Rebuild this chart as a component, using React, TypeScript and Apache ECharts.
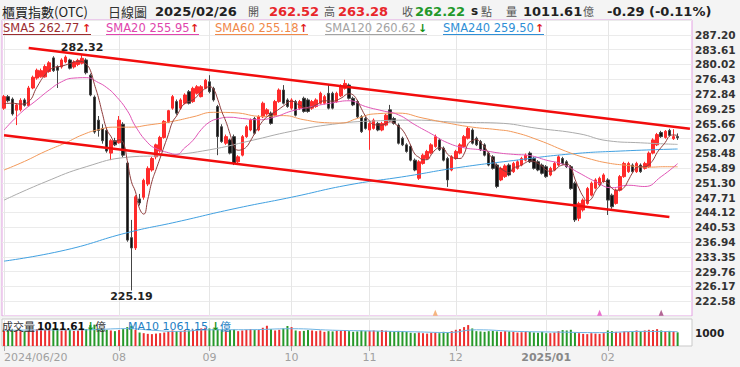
import React, { useEffect, useRef } from 'react';
import * as echarts from 'echarts';

// ---- trading days (category axis) ----
const monthKeys = ['2024/06', '2024/07', '2024/08', '2024/09', '2024/10', '2024/11', '2024/12', '2025/01', '2025/02'];
const monthDays: number[][] = [
  [20, 21, 24, 25, 26, 27, 28],
  [1, 2, 3, 4, 5, 8, 9, 10, 11, 12, 15, 16, 17, 18, 19, 22, 23, 26, 29, 30, 31],
  [1, 2, 5, 6, 7, 8, 9, 12, 13, 14, 15, 16, 19, 20, 21, 22, 23, 26, 27, 28, 29, 30],
  [2, 3, 4, 5, 6, 9, 10, 11, 12, 13, 16, 18, 19, 20, 23, 24, 25, 26, 27, 30],
  [1, 4, 7, 8, 9, 11, 14, 15, 16, 17, 18, 21, 22, 23, 24, 25, 28, 29, 30],
  [1, 4, 5, 6, 7, 8, 11, 12, 13, 14, 15, 18, 19, 20, 21, 22, 25, 26, 27, 28, 29],
  [2, 3, 4, 5, 6, 9, 10, 11, 12, 13, 16, 17, 18, 19, 20, 23, 24, 25, 26, 27, 30, 31],
  [2, 3, 6, 7, 8, 9, 10, 13, 14, 15, 16, 17, 20, 21, 22],
  [3, 4, 5, 6, 7, 10, 11, 12, 13, 14, 17, 18, 19, 20, 21, 24, 25, 26],
];
const monthTickLabels = ['2024/06/20', '', '08', '09', '10', '11', '12', '2025/01', '02'];

// ---- OHLC ----
const opens = [269.4,272.2,271.6,268.9,269.0,271.4,270.0,274.3,276.7,277.0,
277.0,278.3,281.6,279.4,279.4,280.6,281.1,279.4,280.0,280.3,
281.1,277.4,272.1,266.5,264.5,264.0,258.5,261.5,261.0,265.5,
256.1,238.0,235.5,247.4,247.8,251.0,254.4,257.6,259.0,262.3,
266.0,269.4,271.0,269.4,270.6,273.4,271.0,273.0,272.2,274.2,
275.8,274.2,269.8,264.9,260.9,261.7,262.5,256.4,258.0,262.5,
264.1,266.9,264.1,267.3,268.0,268.2,267.7,271.0,273.8,271.4,
269.4,271.0,269.4,271.8,271.4,269.4,269.8,270.6,270.6,273.0,
273.0,271.0,272.4,274.2,275.0,271.8,271.0,267.3,266.9,264.1,
264.5,265.7,264.1,265.3,269.0,266.9,265.3,262.1,260.5,260.1,
256.8,252.4,256.0,257.2,258.5,260.1,261.7,259.7,257.2,254.4,
257.2,258.5,260.1,262.1,264.1,262.1,261.3,260.5,258.5,257.6,
255.6,252.0,252.8,255.6,254.0,254.8,255.6,256.8,258.5,257.2,
256.4,255.6,255.2,253.2,254.4,255.6,257.2,256.4,255.2,251.2,
242.7,244.7,246.3,248.3,250.0,250.8,251.6,252.0,248.3,246.3,
249.5,252.8,254.0,255.6,254.0,255.6,254.8,255.2,258.5,260.5,
263.5,262.3,264.0,262.0,262.52];
const closes = [272.2,271.2,268.0,270.2,271.3,270.1,274.3,276.9,278.6,278.5,
279.5,280.4,278.5,278.6,281.1,281.8,279.1,280.6,281.0,281.5,
278.0,272.6,263.6,264.0,261.5,259.0,261.5,260.5,266.5,258.0,
237.4,235.5,247.9,246.4,251.9,254.8,257.2,260.5,262.3,266.2,
268.8,272.2,268.2,271.4,272.6,270.6,274.2,274.6,274.6,276.2,
273.4,271.4,262.5,261.3,262.5,258.5,256.0,257.6,262.5,264.9,
266.5,263.3,267.3,270.6,269.0,265.7,271.0,273.8,270.6,269.8,
271.4,267.7,271.0,268.6,268.6,271.0,271.4,273.0,272.2,269.4,
269.4,273.0,274.8,275.4,271.8,270.2,267.3,263.7,264.5,265.7,
266.5,264.1,265.7,267.7,266.5,265.7,260.9,260.5,258.9,256.8,
254.4,256.4,258.0,258.9,260.5,262.5,259.3,256.8,252.0,257.6,
258.9,260.5,262.5,264.5,260.9,260.5,259.3,258.0,255.6,254.8,
250.4,254.8,255.4,253.2,256.0,256.4,257.2,258.0,256.4,254.8,
254.4,253.6,252.8,254.8,256.0,257.6,256.0,255.2,249.9,242.3,
246.3,247.1,249.9,251.2,252.0,252.4,253.2,247.1,245.5,249.5,
252.8,256.0,256.0,254.0,256.0,254.0,256.0,258.5,261.7,263.0,
262.5,263.8,262.8,262.51,262.22];
const highs = [272.6,272.6,272.0,270.6,271.8,271.8,274.8,277.3,279.0,279.0,
280.0,280.8,282.0,279.8,281.5,282.2,281.4,281.0,281.4,282.32,
281.5,277.8,272.5,267.5,265.5,264.5,261.9,262.2,267.5,266.0,
256.5,242.3,248.3,248.6,252.3,255.3,257.6,260.8,262.7,266.5,
269.0,272.6,271.5,271.8,273.0,273.8,274.6,275.0,275.0,276.5,
277.4,274.6,270.2,265.5,263.0,262.0,263.0,258.0,262.9,265.3,
266.9,267.3,267.7,271.0,269.4,268.6,271.4,274.2,275.0,271.8,
271.8,271.4,271.4,272.2,271.8,271.4,271.8,273.4,272.6,275.0,
273.4,273.4,275.2,276.3,275.4,272.2,271.4,267.7,267.3,266.0,
266.9,266.1,266.1,268.0,270.2,267.3,265.7,262.5,260.9,260.5,
257.2,256.8,258.4,259.3,260.9,263.0,262.1,260.1,257.6,258.0,
259.3,260.9,262.9,265.0,264.5,262.5,261.7,260.9,258.9,258.0,
256.0,255.2,255.8,256.0,256.4,256.8,257.6,258.4,258.9,257.6,
256.8,256.0,255.6,255.2,256.4,258.0,257.6,256.8,255.6,251.6,
246.7,247.5,250.3,251.6,252.4,252.8,253.6,252.4,248.7,249.9,
253.2,256.4,256.4,256.0,256.4,256.0,256.4,258.9,262.1,263.4,
263.9,264.1,264.4,264.3,263.28];
const lows = [269.0,270.8,267.6,265.3,268.6,269.8,269.8,274.0,276.3,276.8,
276.8,278.0,278.2,274.3,279.0,280.3,278.8,279.0,279.6,280.0,
277.6,272.3,263.2,262.5,260.8,258.6,256.8,260.2,260.8,257.5,
237.0,225.19,235.0,245.8,247.2,250.5,254.0,257.0,258.6,262.0,
265.8,269.0,267.8,269.0,270.3,270.3,270.7,272.7,272.0,274.0,
273.0,271.0,258.0,261.0,260.5,258.2,255.6,256.0,257.7,262.2,
263.8,263.0,263.8,267.0,267.6,265.4,267.4,270.7,270.3,269.5,
269.0,267.4,269.0,268.3,268.3,269.0,269.5,270.3,270.3,269.1,
269.1,270.7,272.1,273.9,271.5,269.9,267.0,263.4,264.2,259.3,
264.2,263.8,263.8,265.0,266.2,265.4,260.6,260.2,258.6,256.5,
254.1,252.0,255.7,256.9,258.2,259.8,259.0,256.5,250.3,254.1,
256.9,258.2,259.8,261.8,260.6,260.2,259.0,257.7,255.3,254.5,
250.0,251.7,252.5,252.9,253.7,254.5,255.3,256.5,256.1,254.5,
254.1,253.3,252.5,252.9,254.1,255.3,255.7,254.9,249.6,241.8,
242.0,244.3,246.0,248.0,249.7,250.5,251.3,243.5,245.0,246.0,
249.2,252.5,253.7,253.7,253.7,253.7,254.5,254.9,258.2,260.2,
262.2,262.0,262.5,261.7,261.7];

// ---- volume (億) ----
const volumes = [1150,1120,1180,1130,1100,1080,1150,
1200,1250,1180,1220,1260,1300,1280,
1150,1200,1180,1120,1150,1200,1260,
1550,1580,
1300,1250,1200,1150,1100,1180,1250,
1400,1500,
1200,1000,950,900,880,920,950,1000,1080,
1150,1100,1120,1180,1150,1200,1250,1300,1350,1300,
1280,1250,1200,1150,1180,1220,1100,1150,1200,1250,
1180,1200,1350,1500,1250,1150,1200,1300,1480,1400,1150,1100,1120,1180,1150,
1100,1150,1050,1100,1080,1120,1150,1180,1100,1050,1080,1150,1100,1120,
1150,1100,1180,1130,1100,1080,1120,1100,1050,
980,950,1000,950,920,980,1000,950,1050,1000,1100,1200,
1250,1400,1550,1300,
1100,1080,1050,1100,1120,1080,1050,1100,1080,1050,1000,1020,1080,1050,1000,980,1050,950,
950,1000,1100,1180,1150,1200,
1000,950,900,880,950,920,900,950,
1150,1100,1050,1000,1080,1050,1100,1150,1080,1150,1200,1180,1250,1150,1100,1120,1080,1011.61];
const volMa10Pts = [[0,1160],[10,1190],[20,1200],[30,1290],[36,1170],[42,1080],[50,1200],[60,1210],[70,1280],[80,1170],[90,1110],[100,1050],[108,1000],[115,1200],[125,1080],[135,1030],[145,990],[155,1080],[164,1061.15]];
const volTickLabels = ['1000'];

// ---- moving averages [index, value] ----
const sma5Pts = [[0,270.5],[2,270.6],[4,270.4],[6,271.0],[8,274.5],[10,277.5],[12,279.2],[14,279.6],[16,280.2],[18,280.8],[19,280.7],[20,280.1],[21,278.6],[22,275.2],[23,271.9],[24,267.9],[25,264.3],[26,262.6],[27,261.3],[28,261.7],[29,261.1],[30,256.7],[31,251.6],[32,249.1],[33,245.0],[34,243.7],[35,247.3],[36,251.6],[37,254.5],[38,257.3],[39,260.2],[40,263.0],[41,266.0],[42,267.5],[44,270.6],[46,271.4],[48,273.3],[50,274.6],[51,274.0],[52,271.6],[53,268.6],[54,266.2],[55,263.2],[56,260.2],[57,259.2],[58,259.4],[59,260.0],[60,261.5],[62,264.9],[64,267.3],[66,268.5],[68,269.9],[70,271.1],[72,270.1],[74,269.4],[76,270.2],[78,271.2],[80,271.1],[82,271.8],[84,272.9],[85,272.6],[86,271.3],[87,269.3],[88,267.5],[89,266.3],[90,265.4],[92,265.3],[94,266.1],[96,265.0],[97,264.1],[98,262.5],[99,260.4],[100,258.3],[101,257.5],[102,256.9],[103,256.9],[104,258.1],[105,259.3],[106,259.8],[107,259.6],[108,258.2],[109,257.6],[110,257.2],[111,257.2],[112,258.3],[113,260.8],[114,261.5],[115,261.8],[116,261.1],[117,260.0],[118,258.4],[119,257.0],[120,255.3],[121,254.7],[122,254.1],[123,253.7],[124,254.9],[125,255.2],[126,255.6],[127,256.2],[128,256.6],[129,256.5],[130,256.0],[131,255.3],[132,254.4],[133,254.1],[134,254.3],[135,255.2],[136,255.6],[137,255.9],[138,255.0],[139,252.2],[140,249.9],[141,248.0],[142,246.9],[143,247.4],[144,249.3],[145,250.5],[146,251.7],[147,251.2],[148,250.0],[149,249.5],[150,249.6],[151,250.2],[152,251.9],[153,253.7],[154,255.0],[155,255.2],[156,255.2],[157,255.7],[158,256.8],[159,258.6],[160,259.9],[161,261.1],[162,262.6],[163,262.9],[164,262.77]];
const sma20Pts = [[0,264.1],[4,268.2],[8,271.4],[11,273.8],[14,275.8],[17,276.7],[20,276.8],[23,275.6],[25,274.4],[27,272.6],[30,268.8],[32,265.0],[35,261.0],[37,259.6],[40,258.6],[42,258.2],[44,259.8],[46,261.6],[48,264.2],[50,266.0],[52,266.8],[55,267.2],[58,266.9],[62,266.6],[66,267.3],[70,268.7],[75,269.8],[80,270.7],[84,271.2],[88,269.8],[92,268.8],[96,267.8],[100,265.4],[104,263.2],[108,261.0],[112,259.8],[116,259.3],[120,258.6],[124,258.2],[128,257.9],[132,256.8],[136,255.8],[140,253.7],[144,251.6],[148,250.1],[152,250.7],[156,250.4],[160,252.8],[164,255.95]];
const sma60Pts = [[0,254.4],[5,256.5],[10,258.9],[15,261.0],[19,262.9],[23,264.2],[27,264.8],[31,264.8],[35,265.3],[41,266.2],[46,267.3],[51,268.4],[56,268.3],[63,267.4],[68,267.6],[73,266.6],[78,265.9],[82,265.8],[86,266.9],[90,268.0],[96,268.2],[102,267.0],[108,265.8],[114,264.8],[120,264.2],[124,263.6],[130,261.7],[138,258.5],[143,257.0],[147,256.1],[151,255.6],[157,255.1],[161,255.2],[164,255.18]];
const sma120Pts = [[0,247.1],[10,251.5],[20,255.2],[30,257.5],[40,258.0],[50,259.3],[60,261.5],[70,263.8],[80,265.5],[90,266.3],[100,266.5],[110,266.0],[120,265.8],[130,264.5],[140,263.2],[147,261.5],[155,261.0],[164,260.62]];
const sma240Pts = [[0,232.3],[15,235.0],[30,239.2],[42,241.8],[56,245.0],[70,247.8],[84,250.8],[98,252.9],[110,254.9],[124,256.7],[138,258.3],[150,259.0],[164,259.5]];

// ---- channel lines [index, value] ----
const upperChannel = [[6, 284.0], [167, 264.4]];
const lowerChannel = [[0, 262.82], [162, 243.0]];

// ---- markers on the bottom edge [index] ----
const crossIdx = [105, 145, 160];
const crossColors = ['#f2a35f', '#e24fc0', '#a0407a'];

// ---- texts ----
const lastDate = '2025/02/26';
const lastOpen = '262.52';
const lastHigh = '263.28';
const lastClose = '262.22';
const lastVol = '1011.61';
const lastChange = '-0.29 (-0.11%)';
const maLegend = [
  { name: 'SMA5', val: '262.77', up: true, color: '#9b2d30', x: 3, end: 91 },
  { name: 'SMA20', val: '255.95', up: true, color: '#e045ad', x: 106, end: 199 },
  { name: 'SMA60', val: '255.18', up: true, color: '#f0894a', x: 215, end: 308 },
  { name: 'SMA120', val: '260.62', up: false, color: '#a3a3a3', x: 325, end: 427 },
  { name: 'SMA240', val: '259.50', up: true, color: '#2e8fd6', x: 443, end: 544 },
];

const LAT = '"DejaVu Sans", Verdana, sans-serif';
const CJK = '"Noto Sans CJK TC", sans-serif';

function T(text: string, x: number, y: number, fill: string, font: string) {
  return {
    type: 'text', x, y, silent: true, z: 100,
    style: { text, fill, font, align: 'left', verticalAlign: 'middle', textAlign: 'left', textVerticalAlign: 'middle' },
  };
}

export default function App() {
  const ref = useRef<HTMLDivElement>(null);
  useEffect(() => {
    document.body.style.margin = '0';
    const dates: string[] = [];
    const tickMap: Record<number, string> = {};
    monthKeys.forEach((m, mi) => {
      monthDays[mi].forEach((d, di) => {
        if (di === 0 && monthTickLabels[mi]) tickMap[dates.length] = monthTickLabels[mi];
        dates.push(m + '/' + String(d).padStart(2, '0'));
      });
    });
    const cats = [...dates, ' ', '  ', '   '];
    const isTick = (i: number) => tickMap[i] !== undefined;

    const candle = opens.map((o, i) => [o, closes[i], lows[i], highs[i]]);
    const volData = volumes.map((v, i) => ({
      value: v,
      itemStyle: { color: closes[i] >= opens[i] ? '#ec2f2f' : '#27992b' },
    }));

    const maLine = (data: number[][], color: string, z = 3) => ({
      type: 'line', xAxisIndex: 0, yAxisIndex: 0, data, smooth: true, symbol: 'none', z,
      lineStyle: { color, width: 1 }, silent: true,
    });

    const graphics: any[] = [
      T('櫃買指數(OTC)', 2, 11, '#222', '13px ' + CJK),
      T('日線圖', 108, 11, '#333', '13px ' + CJK),
      T(lastDate, 155, 11, '#222', 'bold 13px ' + LAT),
      T('開', 248, 11, '#555', '11px ' + CJK),
      T(lastOpen, 269, 11, '#e8262b', 'bold 13px ' + LAT),
      T('高', 324, 11, '#555', '11px ' + CJK),
      T(lastHigh, 338, 11, '#e8262b', 'bold 13px ' + LAT),
      T('收', 402, 11, '#555', '11px ' + CJK),
      T(lastClose, 415, 11, '#23982a', 'bold 13px ' + LAT),
      T('s', 471, 11, '#222', 'bold 12px ' + LAT),
      T('點', 481, 11, '#555', '11px ' + CJK),
      T('量', 506, 11, '#555', '11px ' + CJK),
      T(lastVol, 523, 11, '#222', 'bold 13px ' + LAT),
      T('億', 583, 11, '#555', '11px ' + CJK),
      T(lastChange, 607, 11, '#222', 'bold 13px ' + LAT),
      T('成交量', 2, 326, '#333', '11px ' + CJK),
      T(lastVol, 37, 326, '#111', 'bold 10.5px ' + LAT),
      T('↓', 86, 326, '#1a8f1a', 'bold 11px ' + LAT),
      T('億', 95, 326, '#333', '11px ' + CJK),
      T('MA10 1061.15', 128, 326, '#2380c4', '11px ' + LAT),
      T('↓', 211, 326, '#1a8f1a', 'bold 11px ' + LAT),
      T('億', 220, 326, '#2380c4', '11px ' + CJK),
    ];
    maLegend.forEach((m) => {
      graphics.push(T(m.name + ' ' + m.val, m.x, 28, m.color, '11.5px ' + LAT));
      graphics.push(T(m.up ? '↑' : '↓', m.end - 9, 28, m.up ? '#e02020' : '#139013', 'bold 11px ' + LAT));
      graphics.push({ type: 'line', silent: true, z: 100, shape: { x1: m.x, y1: 34.5, x2: m.end, y2: 34.5 }, style: { stroke: m.color, lineWidth: 1 } });
    });

    const chart = echarts.init(ref.current!, undefined, { renderer: 'svg' });
    chart.setOption({
      animation: false,
      backgroundColor: '#f4f4f4',
      textStyle: { fontFamily: LAT },
      grid: [
        { left: 2, top: 20, width: 690, height: 296, show: true, backgroundColor: '#fff', borderColor: '#e3a2e3', borderWidth: 1 },
        { left: 2, top: 319, width: 690, height: 27, show: true, backgroundColor: '#fff', borderColor: '#c9c9c9', borderWidth: 1 },
      ],
      xAxis: [
        {
          type: 'category', gridIndex: 0, data: cats, boundaryGap: true,
          axisLine: { show: false }, axisTick: { show: false }, axisLabel: { show: false },
          splitLine: { show: true, interval: (i: number) => isTick(i), alignWithLabel: true, lineStyle: { color: '#e6e6e6', width: 1 } },
        },
        {
          type: 'category', gridIndex: 1, data: cats, boundaryGap: true,
          axisLine: { show: false },
          axisTick: { show: true, alignWithLabel: true, interval: (i: number) => isTick(i), length: 5, lineStyle: { color: '#aaa' } },
          axisLabel: {
            interval: (i: number) => isTick(i),
            formatter: (_v: string, i: number) => (tickMap[i] === '2025/01' ? '{b|2025/01}' : tickMap[i] || ''),
            color: '#a0a0a0', fontSize: 11, margin: 6, alignMinLabel: 'left',
            rich: { b: { fontWeight: 'bold', color: '#888', fontSize: 11 } },
          },
          splitLine: { show: true, interval: (i: number) => isTick(i), alignWithLabel: true, lineStyle: { color: '#e6e6e6', width: 1 } },
        },
      ],
      yAxis: [
        {
          type: 'value', gridIndex: 0, position: 'right', min: 218.99, max: 290.79, interval: 3.59, scale: true,
          axisLine: { show: false }, axisTick: { show: false },
          axisLabel: { showMinLabel: false, showMaxLabel: false, formatter: (v: number) => v.toFixed(2), color: '#333', fontWeight: 'bold', fontSize: 10.5, margin: 3 },
          splitLine: { show: true, lineStyle: { color: '#ebebeb' } },
        },
        {
          type: 'value', gridIndex: 1, position: 'right', min: 0, max: 2000, interval: 1000,
          axisLine: { show: false }, axisTick: { show: false },
          axisLabel: { showMinLabel: false, showMaxLabel: false, formatter: () => volTickLabels[0], color: '#222', fontWeight: 'bold', fontSize: 10.5, margin: 3 },
          splitLine: { show: false },
        },
      ],
      graphic: graphics,
      series: [
        {
          type: 'candlestick', xAxisIndex: 0, yAxisIndex: 0, data: candle, barWidth: 3, z: 2,
          itemStyle: { color: '#ff2b2b', color0: '#111', borderColor: '#ff2b2b', borderColor0: '#444', borderWidth: 1 },
          markPoint: {
            symbol: 'circle', symbolSize: 0, silent: true,
            label: { show: true, color: '#222', fontWeight: 'bold', fontSize: 11, fontFamily: LAT },
            data: [
              { coord: [19, 282.32], label: { position: 'top', distance: 2, formatter: '282.32' } },
              { coord: [31, 225.19], label: { position: 'bottom', distance: 1, formatter: '225.19' } },
            ],
          },
        },
        maLine(sma240Pts, '#41a0e0'),
        maLine(sma120Pts, '#ababab'),
        maLine(sma60Pts, '#f2995a'),
        maLine(sma20Pts, '#e055b5'),
        maLine(sma5Pts, '#8e3b3b', 4),
        {
          type: 'line', xAxisIndex: 0, yAxisIndex: 0, data: upperChannel, symbol: 'none', z: 6, silent: true,
          lineStyle: { color: '#f20d0d', width: 2.6 },
        },
        {
          type: 'line', xAxisIndex: 0, yAxisIndex: 0, data: lowerChannel, symbol: 'none', z: 6, silent: true,
          lineStyle: { color: '#f20d0d', width: 2.6 },
        },
        {
          type: 'scatter', xAxisIndex: 0, yAxisIndex: 0, symbol: 'triangle', symbolSize: [5, 6], z: 6, silent: true,
          data: crossIdx.map((idx, k) => ({ value: [idx, 219.8], itemStyle: { color: crossColors[k] } })),
        },
        {
          type: 'bar', xAxisIndex: 1, yAxisIndex: 1, data: volData, barWidth: 2, silent: true,
        },
        {
          type: 'line', xAxisIndex: 1, yAxisIndex: 1, data: volMa10Pts, smooth: true, symbol: 'none', silent: true,
          lineStyle: { color: '#6fb4e3', width: 1 },
        },
      ],
    });
    return () => chart.dispose();
  }, []);
  return <div ref={ref} style={{ width: 740, height: 367, background: '#f4f4f4' }} />;
}
